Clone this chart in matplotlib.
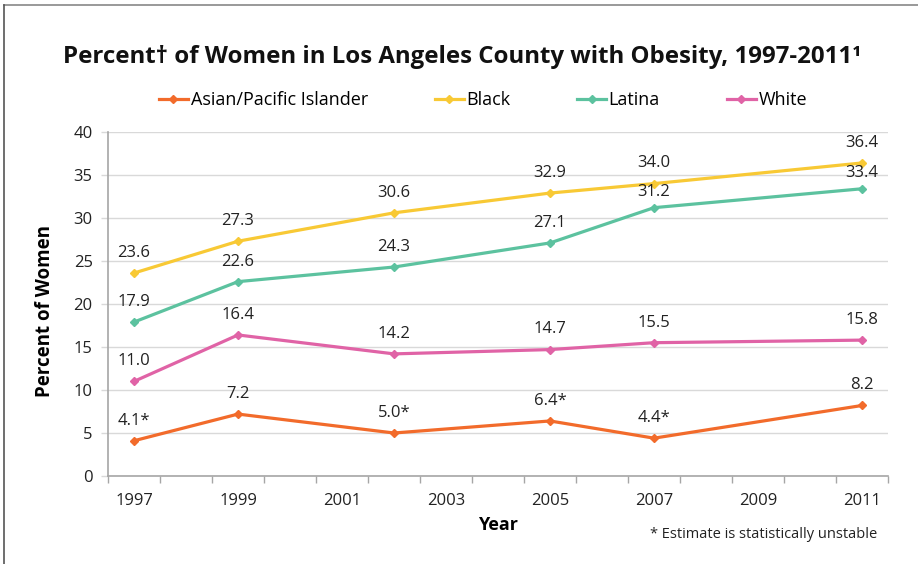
import matplotlib
matplotlib.use("Agg")
import matplotlib.pyplot as plt
from matplotlib.lines import Line2D
from matplotlib.ticker import MultipleLocator, FixedLocator

plt.rcParams['font.family'] = ['Open Sans', 'DejaVu Sans']

years = [1997, 1999, 2002, 2005, 2007, 2011]
asian = [4.1, 7.2, 5.0, 6.4, 4.4, 8.2]
black = [23.6, 27.3, 30.6, 32.9, 34.0, 36.4]
latina = [17.9, 22.6, 24.3, 27.1, 31.2, 33.4]
white = [11.0, 16.4, 14.2, 14.7, 15.5, 15.8]
asian_labels = ["4.1*", "7.2", "5.0*", "6.4*", "4.4*", "8.2"]
series_names = ["Asian/Pacific Islander", "Black", "Latina", "White"]
tick_years = [1997, 1999, 2001, 2003, 2005, 2007, 2009, 2011]

colors = ['#F26B2B', '#F8C935', '#5CC29F', '#E063A6']

fig = plt.figure(figsize=(9.18, 5.64), dpi=100)
ax = fig.add_axes([108/918, 1-476/564, 780/918, 344/564])

all_series = [asian, black, latina, white]
for vals, c, name in zip(all_series, colors, series_names):
    ax.plot(years, vals, color=c, lw=2.3, marker='D', ms=4.5, label=name, zorder=3)

for i, (vals, c) in enumerate(zip(all_series, colors)):
    for j, (x, y) in enumerate(zip(years, vals)):
        lab = asian_labels[j] if i == 0 else f"{y:.1f}"
        dy = 14.5
        if i == 2 and j >= 4:
            dy = 11.5
        ax.annotate(lab, (x, y), xytext=(0, dy), textcoords='offset points',
                    ha='center', va='center', fontsize=12, color='#222222', zorder=4)

ax.set_xlim(1996.5, 2011.5)
ax.set_ylim(0, 40)
ax.yaxis.set_major_locator(MultipleLocator(5))
ax.set_xticks(tick_years)
ax.xaxis.set_minor_locator(FixedLocator([1996.5 + k for k in range(16)]))
ax.tick_params(axis='x', which='major', length=0, labelsize=12, pad=12, colors='#222222')
ax.tick_params(axis='x', which='minor', length=5, color='#A6A6A6', width=1)
ax.tick_params(axis='y', which='major', length=5, color='#D9D9D9', width=1, labelsize=12,
               pad=6, colors='#222222')
ax.grid(axis='y', color='#D9D9D9', lw=1, zorder=0)
ax.set_axisbelow(True)
for s in ['top', 'right']:
    ax.spines[s].set_visible(False)
for s in ['left', 'bottom']:
    ax.spines[s].set_color('#A6A6A6')
    ax.spines[s].set_linewidth(1.2)

ax.set_ylabel("Percent of Women", fontsize=13.5, fontweight='bold')
ax.yaxis.set_label_coords(-(108-55)/780, (476-311)/344)
ax.set_xlabel("Year", fontsize=13, fontweight='bold')
ax.xaxis.set_label_coords((498-108)/780, -(516-476)/344)

fig.text(462/918, 1-57/564, "Percent\u2020 of Women in Los Angeles County with Obesity, 1997-2011\u00b9",
         ha='center', va='center', fontsize=17.3, fontweight='bold', color='#111111')

handles = [Line2D([], [], color=c, lw=2.3, marker='D', ms=4.5) for c in colors]
fig.legend(handles, series_names, loc='center', bbox_to_anchor=(483/918, 1-100/564),
           ncol=4, frameon=False, fontsize=13, handlelength=1.6, handletextpad=0.15,
           columnspacing=3.7, borderpad=0.2)

fig.text(877/918, 1-534/564, "* Estimate is statistically unstable", ha='right', va='center',
         fontsize=10.5, color='#222222')

fig.add_artist(Line2D([4/918, 1], [1-5/564, 1-5/564], color='#888888', lw=1.2))
fig.add_artist(Line2D([4/918, 4/918], [0, 1-5/564], color='#555555', lw=1.2))

fig.savefig("out.png", dpi=100)
